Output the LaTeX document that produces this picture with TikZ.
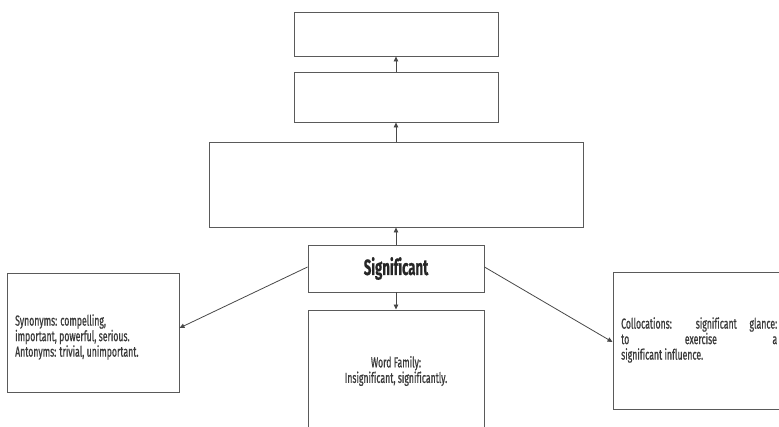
\documentclass[tikz,border=0pt]{standalone}
\usepackage{fontspec}
\setmainfont[FakeStretch=0.6,FakeBold=0.7,Ligatures=NoCommon]{Fira Sans}
\usetikzlibrary{arrows.meta}
\definecolor{edge}{HTML}{5A5A5A}
\definecolor{ink}{HTML}{3A3A3A}
\begin{document}
\begin{tikzpicture}[x=1pt,y=-1pt,
  box/.style={draw=edge,line width=0.95pt,fill=white,rectangle,inner sep=0pt,
              minimum width=#1},
  link/.style={draw=edge!80!black,line width=0.8pt,-{Triangle[length=5pt,width=4.5pt]}},
  body/.style={font=\fontsize{14.5}{15.5}\selectfont,text=ink,inner sep=0pt}
]
\useasboundingbox (0,0) rectangle (779,426);
\clip (0,0) rectangle (779,426);

% chain of empty boxes above the headword
\node[box=204pt,minimum height=44pt] (top) at (396,34) {};
\node[box=204pt,minimum height=50pt] (mid) at (396,97) {};
\node[box=374pt,minimum height=85pt] (wide) at (396,184.5) {};

% headword
\node[box=176pt,minimum height=47pt,
      font=\fontsize{22}{24}\bfseries\selectfont,text=black!85] (word) at (396,268.5) {Significant};

% word family (box runs past the lower edge)
\node[box=176pt,minimum height=124pt] (family) at (396,372) {};
\node[body,align=center] (familytext) at (396,371) {Word Family:\\Insignificant, significantly.};

% synonyms / antonyms
\node[box=172pt,minimum height=119pt] (syn) at (93,332.5) {};
\node[body,align=left,anchor=west] (syntext) at (15,337)
  {Synonyms: compelling,\\important, powerful, serious.\\Antonyms: trivial, unimportant.};

% collocations (box runs past the right edge)
\node[box=177pt,minimum height=137pt] (col) at (701.5,340.5) {};
\node[body,anchor=west] (coltext) at (621,340)
  {\parbox{156pt}{\makebox[156pt][s]{Collocations: significant glance:}\\
   \makebox[156pt][s]{to\hfill exercise\hfill a}\\
   significant influence.}};

% connectors
\draw[link] (word.north) -- (wide.south);
\draw[link] (wide.north) -- (mid.south);
\draw[link] (mid.north) -- (top.south);
\draw[link] (word.south) -- (family.north);
\draw[link] ([yshift=1.5pt]word.west) -- ([yshift=4.5pt]syn.east);
\draw[link] ([yshift=1.5pt]word.east) -- ([yshift=-1.5pt]col.west);
\end{tikzpicture}
\end{document}
